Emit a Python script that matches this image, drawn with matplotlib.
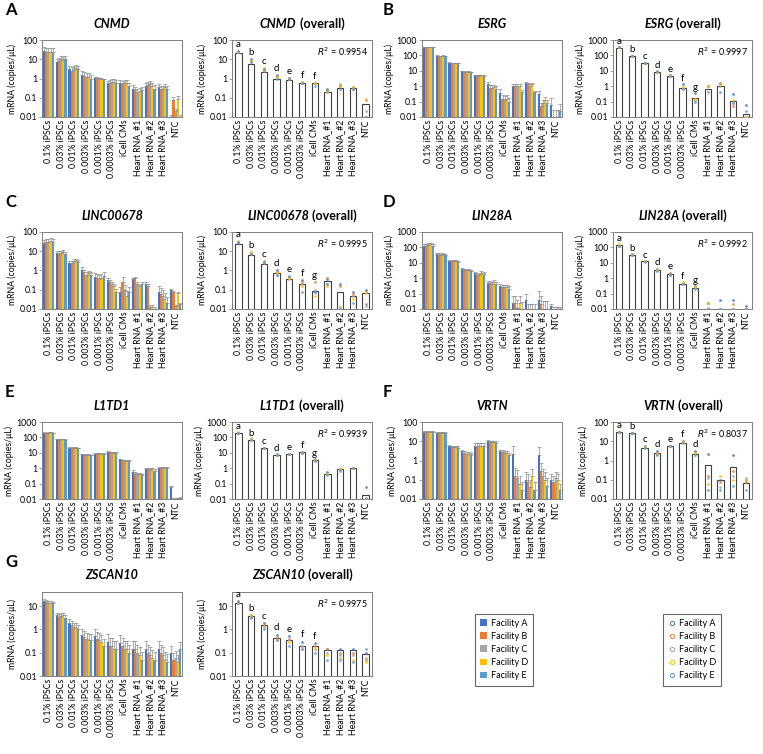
import numpy as np
import matplotlib
matplotlib.use("Agg")
import matplotlib.pyplot as plt
from matplotlib.lines import Line2D
from matplotlib.patches import Patch

plt.rcParams['font.family'] = ['Lato', 'DejaVu Sans']

categories = ["0.1% iPSCs", "0.03% iPSCs", "0.01% iPSCs", "0.003% iPSCs", "0.001% iPSCs",
              "0.0003% iPSCs", "iCell CMs", "Heart RNA_#1", "Heart RNA_#2", "Heart RNA_#3", "NTC"]
facilities = ["Facility A", "Facility B", "Facility C", "Facility D", "Facility E"]
facility_colors = ["#4472C4", "#ED7D31", "#A5A5A5", "#FFC000", "#5B9BD5"]

# facility means: one row per category, columns = facilities A..E
cnmd_fac = [[28, 25, 25, 25, 25], [7.5, 8, 10, 9, 10], [3, 2.5, 3, 3.5, 3], [1.5, 1.3, 1.2, 1.2, 1.0],
            [1.1, 1.1, 1.0, 1.0, 0.9], [0.55, 0.6, 0.65, 0.65, 0.6], [0.6, 0.55, 0.6, 0.6, 0.4],
            [0.3, 0.25, 0.2, 0.22, 0.25], [0.4, 0.45, 0.5, 0.4, 0.3], [0.35, 0.3, 0.3, 0.35, 0.3],
            [0.01, 0.08, 0.02, 0.09, 0.01]]
cnmd_err = [0.5, 0.4, 0.5, 0.6, 0.1, 0.4, 0.4, 0.5, 0.5, 0.4, 0.3]
cnmd_overall = [22, 5.5, 2.3, 0.95, 0.8, 0.55, 0.55, 0.21, 0.33, 0.33, 0.05]
cnmd_letters = ["a", "b", "c", "d", "e", "f", "f", "", "", "", ""]

esrg_fac = [[330, 330, 330, 330, 330], [95, 90, 90, 95, 90], [33, 32, 32, 32, 30], [9.5, 9, 9, 9, 8],
            [5, 4.5, 4.5, 5, 4.5], [1.3, 0.8, 0.8, 0.9, 0.7], [0.35, 0.15, 0.12, 0.15, 0.1],
            [1.1, 1.0, 1.0, 1.1, 0.45], [1.5, 1.3, 1.0, 1.3, 0.4], [0.3, 0.05, 0.08, 0.12, 0.08],
            [0.06, 0.01, 0.01, 0.01, 0.025]]
esrg_err = [0.05, 0.05, 0.05, 0.1, 0.15, 0.4, 0.8, 0.3, 0.3, 0.6, 2.0]
esrg_overall = [320, 85, 30, 8.5, 4.5, 0.75, 0.16, 0.7, 1.0, 0.11, 0.015]
esrg_letters = ["a", "b", "c", "d", "e", "f", "g", "", "", "", ""]

linc_fac = [[28, 30, 30, 33, 30], [8, 7.5, 8, 9, 7], [2.5, 2.5, 3, 3, 2.8], [1.1, 0.8, 0.6, 0.7, 0.6],
            [0.45, 0.4, 0.35, 0.4, 0.5], [0.32, 0.25, 0.2, 0.15, 0.08], [0.08, 0.25, 0.1, 0.05, 0.08],
            [0.35, 0.4, 0.2, 0.15, 0.2], [0.2, 0.15, 0.012, 0.012, 0.01], [0.08, 0.06, 0.05, 0.035, 0.02],
            [0.1, 0.08, 0.015, 0.07, 0.018]]
linc_err = [0.4, 0.3, 0.3, 0.4, 0.7, 0.3, 0.8, 0.2, 0.3, 1.0, 0.1]
linc_overall = [24, 6.5, 2.3, 0.75, 0.37, 0.2, 0.09, 0.27, 0.08, 0.045, 0.065]
linc_letters = ["a", "b", "c", "d", "e", "f", "g", "", "", "", ""]

lin28_fac = [[130, 130, 150, 160, 130], [35, 32, 30, 35, 30], [13, 13, 13, 13, 12], [4, 3.5, 3.3, 3.5, 3],
             [2.2, 1.7, 1.5, 2.3, 2], [0.5, 0.5, 0.45, 0.55, 0.45], [0.3, 0.25, 0.25, 0.25, 0.2],
             [0.025, 0.025, 0.012, 0.025, 0.01], [0.04, 0.01, 0.01, 0.01, 0.01], [0.04, 0.02, 0.01, 0.01, 0.01],
             [0.015, 0.01, 0.01, 0.01, 0.01]]
lin28_err = [0.2, 0.3, 0.1, 0.2, 0.2, 0.3, 0.5, 2.0, 1.2, 2.5, 0.4]
lin28_overall = [140, 33, 13, 3.5, 2, 0.45, 0.23, 0.01, 0.01, 0.01, 0.01]
lin28_letters = ["a", "b", "c", "d", "e", "f", "g", "", "", "", ""]

l1td1_fac = [[200, 190, 200, 210, 190], [75, 72, 75, 75, 72], [22, 22, 22, 22, 21], [8, 7.5, 7.5, 7.5, 7],
             [9, 9, 9, 9, 8.5], [12, 11, 10, 10, 10], [3.8, 3.2, 3, 3.2, 3], [0.6, 0.45, 0.4, 0.4, 0.35],
             [0.9, 0.85, 0.8, 0.9, 0.7], [1.0, 1.1, 1.0, 1.1, 1.0], [0.06, 0.01, 0.01, 0.01, 0.012]]
l1td1_err = [0.05, 0.05, 0.05, 0.1, 0.1, 0.1, 0.1, 0.2, 0.2, 0.15, 0.2]
l1td1_overall = [190, 72, 21, 7.5, 8.5, 11, 3.3, 0.45, 0.85, 1.0, 0.018]
l1td1_letters = ["a", "b", "c", "d", "e", "f", "g", "", "", "", ""]

vrtn_fac = [[32, 32, 32, 32, 32], [28, 28, 28, 28, 28], [5.5, 5, 5, 5, 4.5], [3, 2.5, 2.3, 2.3, 2],
            [6, 5.5, 5.5, 6, 5.5], [10, 9, 9, 9, 8.5], [3, 2.8, 2.5, 2.5, 2], [2.2, 0.15, 0.12, 0.06, 0.03],
            [0.1, 0.08, 0.04, 0.15, 0.03], [2, 0.3, 0.15, 0.1, 0.05], [0.1, 0.08, 0.12, 0.1, 0.03]]
vrtn_err = [0.05, 0.05, 0.2, 0.2, 0.4, 0.2, 0.2, 1.6, 1.4, 1.4, 1.0]
vrtn_overall = [30, 26, 4.7, 2.4, 5.5, 8.5, 2.3, 0.6, 0.1, 0.45, 0.065]
vrtn_letters = ["a", "b", "c", "d", "e", "f", "d", "", "", "", ""]

zscan_fac = [[16, 15, 14, 14, 13], [4, 3.5, 3.8, 4, 3.2], [1.8, 1.5, 1.3, 1.2, 1.0], [0.6, 0.45, 0.4, 0.35, 0.35],
             [0.5, 0.4, 0.35, 0.3, 0.2], [0.3, 0.2, 0.2, 0.15, 0.15], [0.25, 0.2, 0.15, 0.15, 0.1],
             [0.15, 0.15, 0.1, 0.08, 0.05], [0.15, 0.1, 0.08, 0.06, 0.05], [0.15, 0.1, 0.08, 0.05, 0.04],
             [0.1, 0.05, 0.06, 0.04, 0.15]]
zscan_err = [0.2, 0.3, 0.5, 0.8, 1.0, 1.2, 1.2, 1.2, 1.2, 1.2, 1.0]
zscan_overall = [14, 3.8, 1.5, 0.42, 0.35, 0.2, 0.2, 0.13, 0.13, 0.13, 0.09]
zscan_letters = ["a", "b", "c", "d", "e", "f", "f", "", "", "", ""]

W, H = 763, 754
fig = plt.figure(figsize=(W / 100, H / 100), dpi=100)


def rect(l, t, r, b):
    return [l / W, 1 - b / H, (r - l) / W, (b - t) / H]


cols = [(42, 182), (232, 372), (422, 562), (613, 752)]
rows = [(40, 117), (232, 309), (422, 499), (592, 676)]

panels = [
    ("A", "CNMD", cnmd_fac, cnmd_err, cnmd_overall, cnmd_letters, "0.9954", 0, 0, 100),
    ("B", "ESRG", esrg_fac, esrg_err, esrg_overall, esrg_letters, "0.9997", 0, 1, 1000),
    ("C", "LINC00678", linc_fac, linc_err, linc_overall, linc_letters, "0.9995", 1, 0, 100),
    ("D", "LIN28A", lin28_fac, lin28_err, lin28_overall, lin28_letters, "0.9992", 1, 1, 1000),
    ("E", "L1TD1", l1td1_fac, l1td1_err, l1td1_overall, l1td1_letters, "0.9939", 2, 0, 1000),
    ("F", "VRTN", vrtn_fac, vrtn_err, vrtn_overall, vrtn_letters, "0.8037", 2, 1, 100),
    ("G", "ZSCAN10", zscan_fac, zscan_err, zscan_overall, zscan_letters, "0.9975", 3, 0, 40),
]

x = np.arange(len(categories))
fs_tick = 6.3
spine_col = "#808080"


def style_axis(ax, ytop):
    ax.set_yscale("log")
    ax.set_ylim(0.01, ytop)
    ax.set_xlim(-0.5, len(categories) - 0.5)
    ticks = [t for t in [0.01, 0.1, 1, 10, 100, 1000] if t <= ytop]
    ax.set_yticks(ticks)
    ax.set_yticklabels([("%g" % t) for t in ticks], fontsize=fs_tick)
    ax.minorticks_off()
    ax.set_xticks(x)
    ax.set_xticklabels(categories, rotation=90, fontsize=fs_tick)
    ax.tick_params(axis="x", length=0, pad=2)
    ax.tick_params(axis="y", length=2, width=0.5, pad=1.5, color=spine_col)
    for s in ax.spines.values():
        s.set_color(spine_col)
        s.set_linewidth(0.7)
    ax.set_ylabel("mRNA (copies/\u03bcL)", fontsize=fs_tick, labelpad=2)


def title(ax, gene, overall):
    cx = 0.5
    if overall:
        t1 = ax.text(cx - 0.17, 1.13, gene, transform=ax.transAxes, fontsize=9, fontweight="bold",
                     fontstyle="italic", ha="center", va="bottom")
        ax.annotate(" (overall)", xy=(1, 0), xycoords=t1, fontsize=9, fontweight="bold",
                    ha="left", va="bottom")
    else:
        ax.text(cx, 1.13, gene, transform=ax.transAxes, fontsize=9, fontweight="bold",
                fontstyle="italic", ha="center", va="bottom")


bw = 0.17
for letter, gene, fac, err, overall, letters, r2, r, c, ytop in panels:
    fac = np.array(fac, dtype=float)
    err = np.array(err, dtype=float)
    t, b = rows[r]
    l1, r1 = cols[2 * c]
    l2, r2x = cols[2 * c + 1]
    ax1 = fig.add_axes(rect(l1, t, r1, b))
    ax2 = fig.add_axes(rect(l2, t, r2x, b))
    for i in range(5):
        xs = x + (i - 2) * bw
        ax1.bar(xs, fac[:, i], width=bw, color=facility_colors[i], edgecolor="none")
        ax1.errorbar(xs, fac[:, i], yerr=[np.zeros(len(x)), fac[:, i] * err], fmt="none",
                     ecolor="#8c8c8c", elinewidth=0.5, capsize=1.2, capthick=0.5)
    style_axis(ax1, ytop)
    title(ax1, gene, False)

    ax2.bar(x, overall, width=0.5, color="white", edgecolor="#404040", linewidth=0.8, zorder=2)
    for i in range(5):
        ax2.scatter(x, fac[:, i], s=4, color=facility_colors[i], alpha=0.8, zorder=3, linewidths=0)
    style_axis(ax2, ytop)
    title(ax2, gene, True)
    for k, lt in enumerate(letters):
        if lt:
            ytxt = max(fac[k].max(), overall[k]) * 1.25
            ax2.text(x[k], ytxt, lt, fontsize=7, ha="center", va="bottom", zorder=4)
    ax2.text(0.97, 0.93, r"$R^2$ = " + r2, transform=ax2.transAxes, fontsize=6.5,
             ha="right", va="top")

    lx = 5 if c == 0 else 383
    ly = t - 30 if r > 0 else 10
    fig.text(lx / W, 1 - ly / H, letter, fontsize=12, fontweight="bold", ha="left", va="center")

# legends
bar_handles = [Patch(facecolor=col, edgecolor="none", label=f) for f, col in zip(facilities, facility_colors)]
pt_handles = [Line2D([], [], marker="o", linestyle="none", markerfacecolor="none", markeredgecolor=col,
                     markersize=3, markeredgewidth=0.7, label=f) for f, col in zip(facilities, facility_colors)]
for handles, (lx, ly) in [(bar_handles, (470, 609)), (pt_handles, (658, 609))]:
    leg = fig.legend(handles=handles, loc="upper left", bbox_to_anchor=(lx / W, 1 - ly / H),
                     fontsize=6.5, frameon=True, fancybox=False, edgecolor="#404040",
                     handlelength=0.8, handleheight=0.8, handletextpad=0.4, labelspacing=0.45,
                     borderpad=0.6)
    leg.get_frame().set_linewidth(0.8)

fig.savefig("out.png", dpi=100, facecolor="white")
